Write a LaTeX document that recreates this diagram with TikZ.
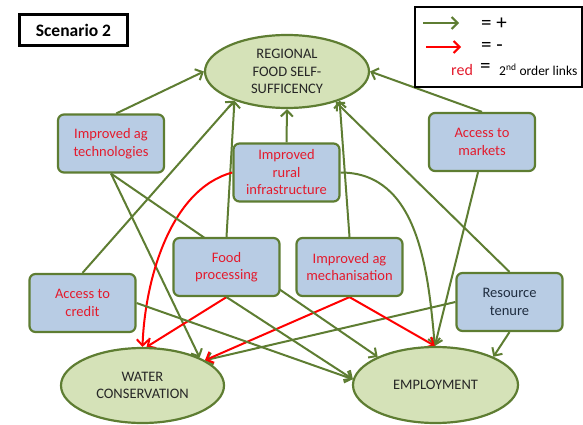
\documentclass[tikz,border=0pt]{standalone}
\usepackage{fontspec}
\setmainfont{Carlito}
\usetikzlibrary{shapes.geometric,arrows.meta}
\definecolor{gline}{HTML}{5E7D32}
\definecolor{gfill}{HTML}{D5E2B8}
\definecolor{bfill}{HTML}{B8CCE4}
\definecolor{rtext}{HTML}{E31B2D}
\definecolor{rline}{HTML}{FF0000}
\definecolor{dtext}{HTML}{1F2D40}
\pgfdeclarelayer{background}
\pgfsetlayers{background,main}
\begin{document}
\begin{tikzpicture}[x=1pt,y=-1pt,
  box/.style={draw=gline, line width=2.2pt, fill=bfill, rounded corners=6pt,
    minimum width=106pt, minimum height=58pt, align=center, inner sep=1pt,
    font=\fontsize{14.5}{17.5}\selectfont, text=rtext},
  oval/.style={ellipse, draw=gline, line width=2.2pt, fill=gfill, align=center,
    inner sep=0pt, font=\fontsize{14.5}{17.5}\selectfont, text=black!85},
  posarr/.style={draw=gline, line width=2pt, -{Straight Barb[length=6pt,width=12pt,line width=2pt]}},
  negarr/.style={draw=rline, line width=2pt, -{Straight Barb[length=6pt,width=12pt,line width=2pt]}}]
\useasboundingbox (0,0) rectangle (583,425);

% title and legend
\node[draw=black, line width=2.2pt, minimum width=108pt, minimum height=31pt,
  font=\bfseries\fontsize{17.5}{20}\selectfont] (title) at (73.5,30) {Scenario 2};
\node[draw=black, line width=1.3pt, minimum width=167pt, minimum height=80pt] (legend) at (498.5,47) {};
\coordinate (l1a) at (423,23); \coordinate (l1b) at (459,23);
\coordinate (l2a) at (426,47); \coordinate (l2b) at (461,47);
\draw[posarr] (l1a) -- (l1b);
\draw[negarr] (l2a) -- (l2b);
\node[anchor=west, font=\fontsize{21}{24}\selectfont, inner sep=0pt] (lp) at (481,24) {= +};
\node[anchor=west, font=\fontsize{21}{24}\selectfont, inner sep=0pt] (lm) at (481,47) {= -};
\node[anchor=west, font=\fontsize{16}{18}\selectfont, text=rtext, inner sep=0pt] (lr) at (451,70) {red};
\node[anchor=west, font=\fontsize{21}{24}\selectfont, inner sep=0pt] (le) at (480,68) {=};
\node[anchor=west, font=\fontsize{13.5}{15}\selectfont, inner sep=0pt] (lo) at (499,70) {2\textsuperscript{nd} order links};

% outcome ellipses
\node[oval, minimum width=164pt, minimum height=73pt] (rfss) at (287,71.5) {REGIONAL\\FOOD SELF-\\SUFFICENCY};
\node[oval, minimum width=163pt, minimum height=75pt] (water) at (142.5,385.5) {WATER\\CONSERVATION};
\node[oval, minimum width=165pt, minimum height=76pt] (emp) at (435.5,385) {EMPLOYMENT};

% driver boxes
\node[box] (atech) at (111,143.5) {Improved ag\\technologies};
\node[box] (rural) at (286.5,172.5) {Improved\\rural\\infrastructure};
\node[box] (markets) at (482,142) {Access to\\markets};
\node[box] (food) at (226.5,267) {Food\\processing};
\node[box] (mech) at (349.5,267) {Improved ag\\mechanisation};
\node[box] (credit) at (82.5,303) {Access to\\credit};
\node[box, text=dtext] (tenure) at (509.5,302) {Resource\\tenure};

\begin{pgfonlayer}{background}
% to regional food self-sufficiency
\draw[posarr] (atech.80) -- (rfss.180);
\draw[posarr] (credit.north) -- (rfss.209);
\draw[posarr] (food.north) -- (rfss.209);
\draw[posarr] (rural.north) -- (rfss.270);
\draw[posarr] (mech.north) -- (rfss.331);
\draw[posarr] (tenure.north) -- (rfss.328);
\draw[posarr] (markets.north) -- (rfss.0);
% to water conservation
\draw[posarr] (atech.south) -- (water.26);
\draw[posarr] (tenure.west) -- (water.22);
\draw[negarr] (rural.west) to[out=195, in=88, looseness=0.85] (water.90);
\draw[negarr] (food.south) -- (water.84);
\draw[negarr] (mech.south) -- (water.22);
% to employment
\draw[posarr] (atech.south) -- (emp.154);
\draw[posarr] (food.south) -- (emp.176);
\draw[posarr] (credit.east) -- (emp.176);
\draw[posarr] (rural.east) to[out=0, in=95] (emp.91);
\draw[posarr] ([xshift=-4pt]markets.south) -- (emp.91);
\draw[negarr] (mech.south) -- (emp.91);
\draw[posarr] (tenure.south) -- (emp.26);
\end{pgfonlayer}
\end{tikzpicture}
\end{document}
